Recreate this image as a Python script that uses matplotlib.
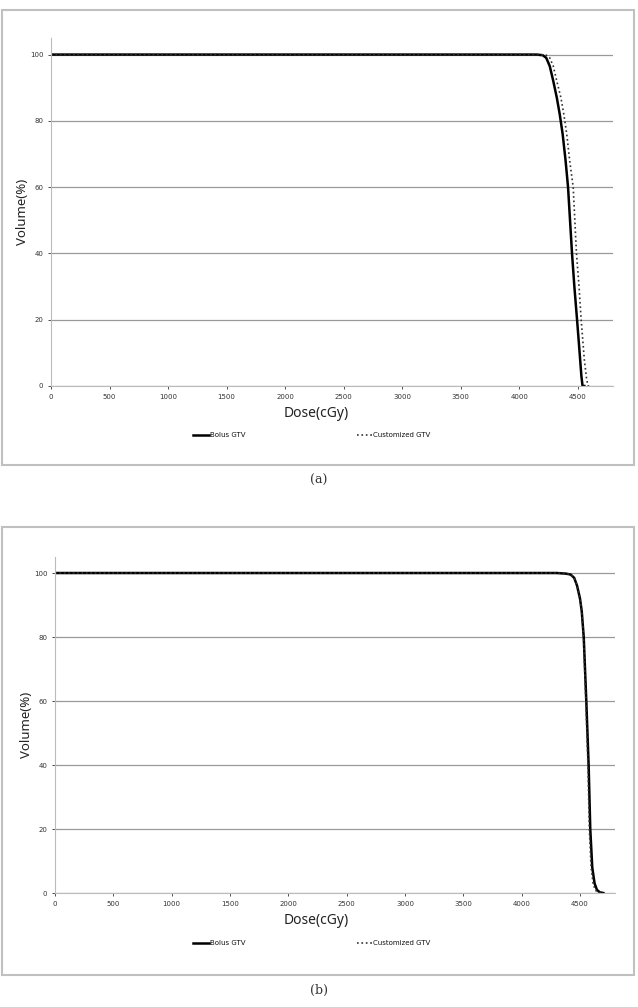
import matplotlib.pyplot as plt
from matplotlib.patches import Rectangle

# (a) DVH
a_bolus_dose = [0, 4150, 4200, 4230, 4260, 4290, 4320, 4345, 4370, 4395, 4416, 4450, 4470, 4493, 4515, 4530, 4540, 4555]
a_bolus_vol = [100, 100, 99.8, 99, 96.5, 92, 87, 82, 76, 68, 60, 40, 30, 20, 10, 3, 0, 0]
a_cust_dose = [0, 4180, 4230, 4260, 4290, 4320, 4355, 4380, 4405, 4430, 4460, 4488, 4510, 4528, 4555, 4575, 4588, 4610]
a_cust_vol = [100, 100, 99.8, 99, 96.5, 92, 87, 82, 76, 68, 60, 40, 30, 20, 8, 2, 0, 0]

# (b) DVH
b_bolus_dose = [0, 4300, 4380, 4420, 4450, 4475, 4500, 4515, 4532, 4554, 4574, 4588, 4605, 4625, 4645, 4670, 4700]
b_bolus_vol = [100, 100, 99.8, 99.5, 98.5, 96, 92, 88, 80, 60, 40, 20, 8, 3, 1, 0.2, 0]
b_cust_dose = [0, 4300, 4380, 4420, 4450, 4475, 4500, 4515, 4530, 4550, 4568, 4580, 4595, 4612, 4630, 4650, 4680]
b_cust_vol = [100, 100, 99.8, 99.5, 98.5, 96, 92, 88, 80, 60, 40, 20, 8, 3, 1, 0.2, 0]

xticks = list(range(0, 4501, 500))
yticks = [0, 20, 40, 60, 80, 100]

W, H = 638, 1007
fig = plt.figure(figsize=(W / 100, H / 100), dpi=100)


def px(x0, y0, x1, y1):
    # pixel box -> figure fraction [left, bottom, width, height]
    return [x0 / W, 1 - y1 / H, (x1 - x0) / W, (y1 - y0) / H]


def panel(box, frame, legend_y, caption_y, caption, bd, bv, cd, cv):
    l, t, r, b = frame
    fig.add_artist(Rectangle((l / W, 1 - b / H), (r - l) / W, (b - t) / H,
                             transform=fig.transFigure, fill=False,
                             edgecolor='#c0c0c0', linewidth=1.5))
    ax = fig.add_axes(px(*box))
    ax.plot(bd, bv, color='black', linewidth=1.8, label='Bolus GTV')
    ax.plot(cd, cv, color='#333333', linewidth=1.2, linestyle=':', label='Customized GTV')
    ax.set_xlim(0, 4800)
    ax.set_ylim(0, 105)
    ax.set_xticks(xticks)
    ax.set_yticks(yticks)
    ax.tick_params(labelsize=5, colors='#333333', length=2, width=0.6)
    ax.yaxis.grid(True, color='#999999', linewidth=0.9)
    ax.set_axisbelow(True)
    for s in ['top', 'right']:
        ax.spines[s].set_visible(False)
    for s in ['left', 'bottom']:
        ax.spines[s].set_color('#bbbbbb')
        ax.spines[s].set_linewidth(0.8)
    x0, y0, x1, y1 = box
    ax.set_xlabel('Dose(cGy)', fontsize=10, family='Noto Sans', color='#222222')
    ax.xaxis.set_label_coords((316 - x0) / (x1 - x0), -20 / (y1 - y0))
    ax.set_ylabel('Volume(%)', fontsize=9.5, family='Noto Sans', color='#222222')
    ax.yaxis.set_label_coords(-22 / (x1 - x0), 0.5)
    ax.legend(loc='center', bbox_to_anchor=(312 / W, 1 - legend_y / H), bbox_transform=fig.transFigure,
              ncol=2, frameon=False, fontsize=5, handlelength=2.2, handletextpad=0.2,
              columnspacing=16, labelcolor='#111111')
    fig.text(0.5, 1 - caption_y / H, caption, ha='center', va='center',
             fontsize=9, family='DejaVu Serif', color='#333333')
    return ax


panel((51, 38, 613, 386), (2, 10, 634, 465), 435, 480, '(a)',
      a_bolus_dose, a_bolus_vol, a_cust_dose, a_cust_vol)
panel((55, 557, 615, 893), (2, 527, 634, 975), 943, 990, '(b)',
      b_bolus_dose, b_bolus_vol, b_cust_dose, b_cust_vol)

fig.savefig('out.png', dpi=100)
